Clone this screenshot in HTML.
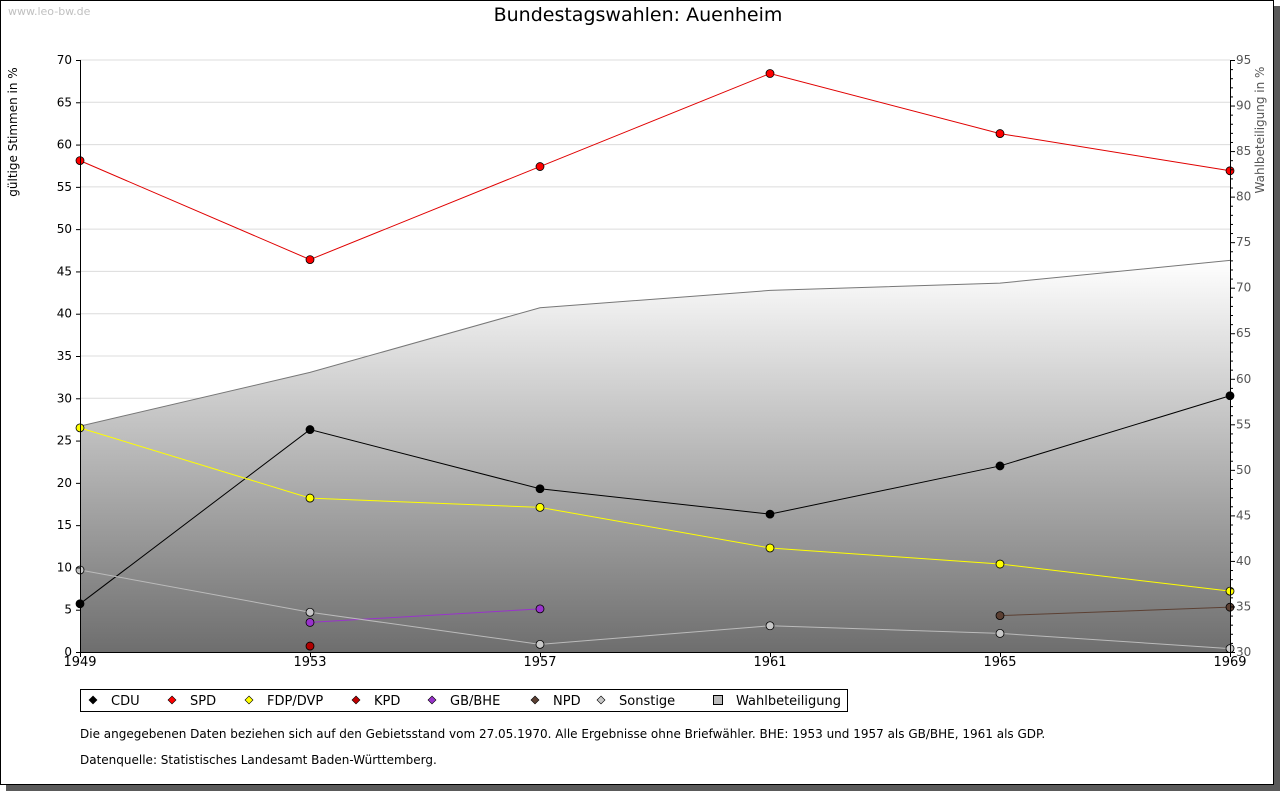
<!DOCTYPE html>
<html><head><meta charset="utf-8"><style>
body{margin:0;background:#fff;width:1280px;height:791px;overflow:hidden;font-family:"DejaVu Sans","Liberation Sans",sans-serif}
svg text{font-family:"DejaVu Sans","Liberation Sans",sans-serif}
</style></head><body>
<svg id="c" width="1280" height="791" xmlns="http://www.w3.org/2000/svg">
<defs><linearGradient id="g" x1="0" y1="0" x2="0" y2="1"><stop offset="0" stop-color="#ffffff"/><stop offset="1" stop-color="#6e6e6e"/></linearGradient></defs>
<rect x="6" y="6" width="1274" height="785" fill="#5a5a5a"/>
<rect x="0.5" y="0.5" width="1273" height="784" fill="#fff" stroke="#000"/>
<text x="8" y="15" font-size="11" fill="#c0c0c0">www.leo-bw.de</text>
<text x="638" y="21" font-size="19" text-anchor="middle" fill="#000">Bundestagswahlen: Auenheim</text>
<text transform="translate(17,132) rotate(-90)" font-size="12" text-anchor="middle">gültige Stimmen in %</text>
<text transform="translate(1264,130) rotate(-90)" font-size="12" text-anchor="middle" fill="#555">Wahlbeteiligung in %</text>
<g id="grid"></g><g id="area"></g><g id="series"></g><g id="axes"></g>
<rect x="80.5" y="689.5" width="767" height="22" fill="#fff" stroke="#000"/>
<g id="legend"></g>
<text x="80" y="738" font-size="12">Die angegebenen Daten beziehen sich auf den Gebietsstand vom 27.05.1970. Alle Ergebnisse ohne Briefwähler. BHE: 1953 und 1957 als GB/BHE, 1961 als GDP.</text>
<text x="80" y="764" font-size="12">Datenquelle: Statistisches Landesamt Baden-Württemberg.</text>
</svg>
<script>
const years=[1949,1953,1957,1961,1965,1969];
const cdu=[5.7,26.3,19.3,16.3,22.0,30.3];
const spd=[58.1,46.4,57.4,68.4,61.3,56.9];
const fdp=[26.5,18.2,17.1,12.3,10.4,7.2];
const kpd=[null,0.7,null,null,null,null];
const gbbhe=[null,3.5,5.1,null,null,null];
const npd=[null,null,null,null,4.3,5.3];
const sonstige=[9.7,4.7,0.9,3.1,2.2,0.4];
const turnout=[54.8,60.7,67.8,69.7,70.5,73.0];
const leftTicks=[0,5,10,15,20,25,30,35,40,45,50,55,60,65,70];
const rightTicks=[30,35,40,45,50,55,60,65,70,75,80,85,90,95];
const NS="http://www.w3.org/2000/svg";
const X0=80,X1=1230,Y0=652,Y1=60;
const xs=y=>X0+(y-years[0])/(years[years.length-1]-years[0])*(X1-X0);
const yl=v=>Y0-v/70*(Y0-Y1);
const yr=v=>Y0-(v-30)/65*(Y0-Y1);
function el(t,a,p){const e=document.createElementNS(NS,t);for(const k in a)e.setAttribute(k,a[k]);document.getElementById(p).appendChild(e);return e;}
leftTicks.forEach(t=>{if(t>0){const l=el('line',{x1:X0,x2:X1,y1:yl(t),y2:yl(t),stroke:'#dcdcdc'},'grid');

}});
let d=`M${X0},${Y0}`;years.forEach((y,i)=>d+=` L${xs(y)},${yr(turnout[i])}`);d+=` L${X1},${Y0}Z`;
const a=el('path',{d:d,fill:'url(#g)'},'area');


let d2='';years.forEach((y,i)=>d2+=(i?' L':'M')+xs(y)+','+yr(turnout[i]));
const al=el('path',{d:d2,fill:'none',stroke:'#777'},'area');


const series=[['cdu',cdu,'#000','#000'],['spd',spd,'#ff0000','#e00000'],['fdp',fdp,'#ffff00','#ffff00'],['kpd',kpd,'#b00000','#c00000'],['gbbhe',gbbhe,'#9933cc','#9933cc'],['npd',npd,'#5c4033','#5c4033'],['sonstige',sonstige,'#c8c8c8','#bbbbbb']];
series.forEach(([n,v,c,lc])=>{let p='';let first=true;
v.forEach((val,i)=>{if(val==null)return;p+=(first?'M':' L')+xs(years[i])+','+yl(val);first=false;});
const l=el('path',{d:p,fill:'none',stroke:lc,'stroke-width':1},'series');


v.forEach((val,i)=>{if(val==null)return;const m=el('circle',{cx:xs(years[i]),cy:yl(val),r:4,fill:c,stroke:'#000','stroke-width':0.8},'series');

});});
el('line',{x1:X0+.5,x2:X0+.5,y1:Y1,y2:Y0,stroke:'#000'},'axes');
el('line',{x1:X1+.5,x2:X1+.5,y1:Y1,y2:Y0,stroke:'#000'},'axes');
el('line',{x1:X0,x2:X1,y1:Y0+.5,y2:Y0+.5,stroke:'#000'},'axes');
leftTicks.forEach(t=>{el('line',{x1:X0-4,x2:X0,y1:yl(t)+.5,y2:yl(t)+.5,stroke:'#000'},'axes');
const tx=el('text',{x:X0-8,y:yl(t)+4,'font-size':12,'text-anchor':'end'},'axes');tx.textContent=t;

});
for(let v=30;v<=95;v++){el('line',{x1:X1,x2:X1+(v%5?3:5),y1:yr(v)+.5,y2:yr(v)+.5,stroke:'#000'},'axes');}
rightTicks.forEach(t=>{const tx=el('text',{x:X1+6,y:yr(t)+4,'font-size':12,fill:'#555'},'axes');tx.textContent=t;

});
years.forEach(y=>{el('line',{x1:xs(y)+.5,x2:xs(y)+.5,y1:Y0,y2:Y0+5,stroke:'#000'},'axes');
const tx=el('text',{x:xs(y),y:Y0+14,'font-size':13,'text-anchor':'middle'},'axes');tx.textContent=y;

});
const leg=[['CDU','#000',93],['SPD','#ff0000',172],['FDP/DVP','#ffff00',249],['KPD','#c00000',356],['GB/BHE','#9933cc',432],['NPD','#5c4033',535],['Sonstige','#c8c8c8',601]];
leg.forEach(([t,c,x])=>{const m=el('path',{d:`M${x},${696} L${x+4},${700} L${x},${704} L${x-4},${700}Z`,fill:c,stroke:'#000','stroke-width':.6},'legend');


const tx=el('text',{x:x+18,y:705,'font-size':13},'legend');tx.textContent=t;

});
const sq=el('rect',{x:713.5,y:695.5,width:9,height:9,fill:'#bbb',stroke:'#000'},'legend');


const tw=el('text',{x:736,y:705,'font-size':13},'legend');tw.textContent='Wahlbeteiligung';


</script>
</body></html>
